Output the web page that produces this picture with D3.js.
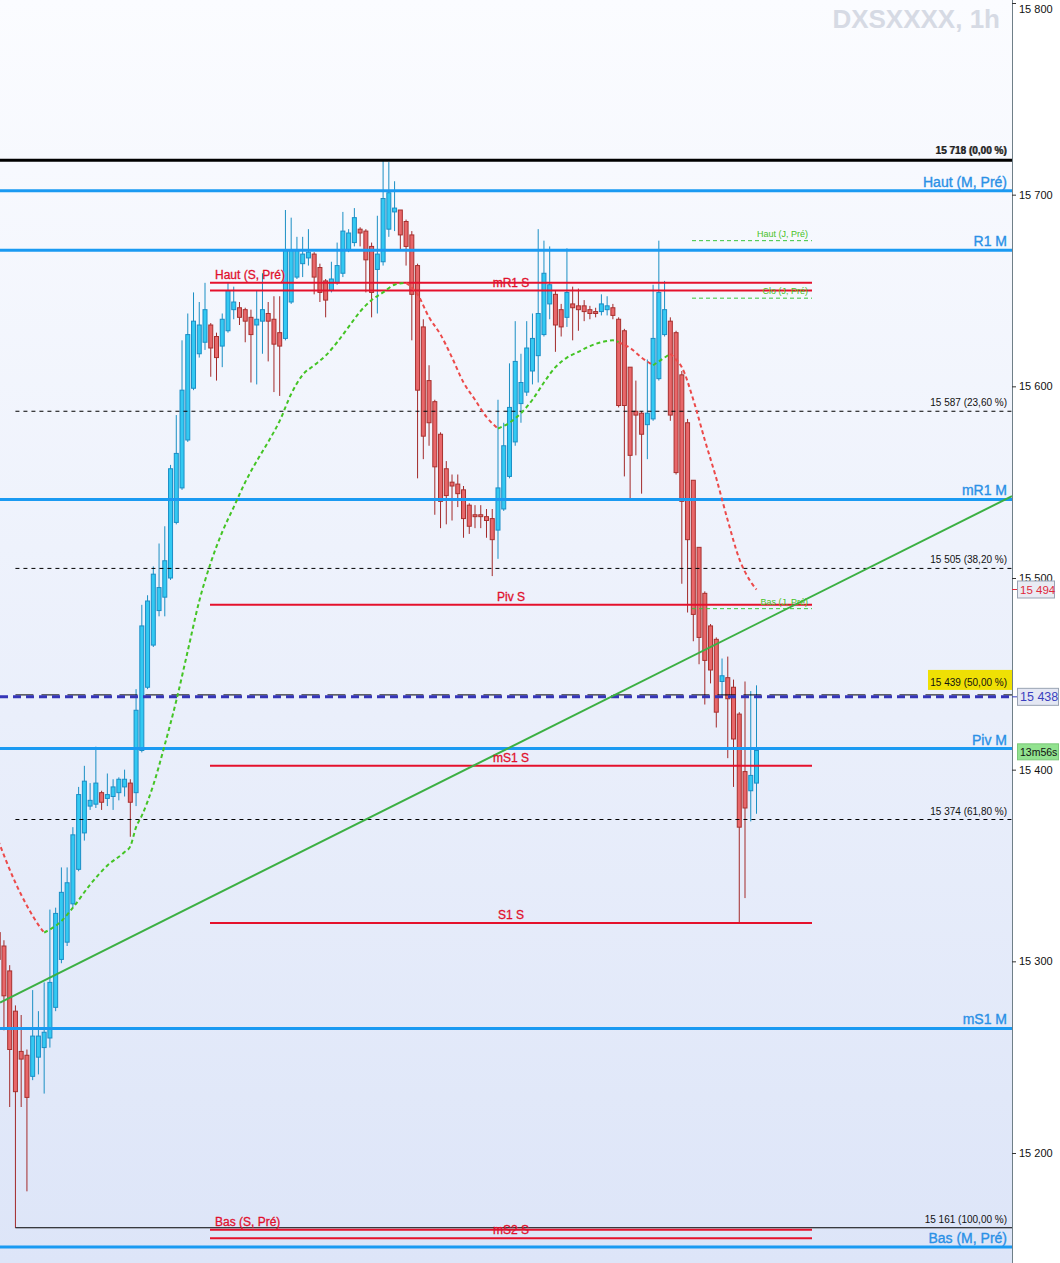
<!DOCTYPE html>
<html><head><meta charset="utf-8">
<script src="https://cdn.jsdelivr.net/npm/d3@7"></script>
<style>
body{margin:0;background:#fff}
svg{display:block}
text{font-family:"Liberation Sans",Arial,sans-serif}
</style>
</head><body>
<svg id="c" width="1060" height="1263"></svg>
<script>
// ---------- DATA ----------
const title = "DXSXXXX, 1h";
const opens  = [15315,15308,15295,15274,15253,15251,15240,15250,15255,15260,15276,15301,15310,15330,15348,15367,15381,15382,15388,15385,15386,15388,15391,15393,15388,15410,15443,15465,15483,15490,15500,15529,15547,15572,15599,15617,15623,15632,15626,15621,15629,15640,15641,15640,15636,15632,15634,15638,15635,15628,15625,15644,15657,15664,15667,15669,15662,15655,15650,15654,15659,15671,15675,15682,15681,15673,15661,15665,15682,15691,15692,15686,15679,15663,15631,15603,15592,15575,15557,15550,15549,15546,15538,15533,15533,15532,15531,15525,15536,15553,15571,15591,15597,15608,15616,15627,15643,15648,15640,15636,15643,15642,15642,15640,15639,15639,15640,15641,15635,15629,15610,15587,15586,15580,15583,15604,15627,15634,15628,15606,15581,15551,15516,15492,15475,15468,15446,15448,15443,15429,15399,15389,15393];
const highs  = [15319,15311,15298,15277,15272,15254,15285,15274,15289,15327,15328,15349,15349,15370,15391,15402,15393,15412,15389,15398,15395,15396,15400,15395,15442,15486,15491,15506,15518,15527,15559,15585,15624,15638,15649,15644,15654,15633,15628,15638,15654,15652,15644,15641,15640,15650,15659,15644,15647,15647,15692,15688,15678,15678,15682,15670,15664,15656,15665,15675,15691,15682,15693,15683,15682,15675,15689,15718,15717,15707,15692,15687,15681,15664,15635,15611,15593,15576,15561,15554,15554,15548,15539,15538,15538,15536,15536,15593,15581,15612,15634,15617,15634,15638,15682,15676,15673,15650,15643,15672,15652,15651,15645,15642,15641,15648,15647,15643,15636,15630,15610,15603,15587,15614,15653,15676,15655,15636,15629,15608,15583,15551,15516,15493,15476,15469,15458,15459,15447,15430,15446,15441,15444];
const lows   = [15266,15264,15224,15161,15224,15180,15238,15241,15231,15255,15274,15299,15308,15328,15347,15363,15379,15380,15379,15381,15379,15384,15386,15365,15381,15409,15442,15464,15480,15480,15499,15528,15546,15571,15598,15615,15619,15605,15603,15610,15628,15635,15632,15623,15602,15601,15617,15613,15597,15595,15624,15643,15656,15657,15663,15648,15644,15636,15649,15653,15657,15670,15673,15673,15649,15636,15638,15663,15678,15681,15671,15663,15624,15552,15562,15569,15533,15526,15528,15530,15537,15521,15523,15526,15526,15521,15501,15510,15535,15552,15569,15581,15595,15601,15602,15626,15635,15618,15626,15631,15624,15629,15634,15635,15636,15637,15637,15635,15589,15553,15541,15564,15544,15562,15582,15603,15626,15582,15554,15497,15482,15467,15455,15434,15445,15422,15438,15406,15391,15320,15333,15373,15377];
const closes = [15301,15282,15254,15232,15249,15229,15261,15261,15263,15289,15325,15336,15341,15366,15387,15394,15384,15393,15383,15387,15391,15395,15395,15383,15431,15475,15488,15502,15495,15509,15557,15565,15598,15627,15634,15632,15640,15620,15615,15635,15650,15644,15636,15634,15627,15635,15640,15634,15622,15621,15671,15671,15671,15669,15670,15657,15649,15645,15656,15663,15681,15680,15688,15680,15666,15649,15669,15698,15701,15693,15679,15673,15648,15598,15574,15581,15558,15540,15543,15548,15544,15531,15527,15532,15532,15530,15520,15547,15569,15589,15613,15602,15620,15625,15638,15659,15653,15632,15631,15649,15641,15640,15639,15638,15638,15643,15642,15637,15590,15590,15564,15585,15575,15586,15625,15649,15640,15585,15555,15540,15520,15481,15469,15457,15452,15430,15449,15437,15416,15370,15380,15397,15410];

// trailing stop curve (candle index, value, direction of the segment that starts there)
const trendIdx = [0,3,5,7,8,11,13,16,19,22,23,24,25,27,29,31,33,35,37,39,41,43,45,47,49,51,53,55,57,59,61,63,65,67,69,71,73,75,77,79,81,83,85,87,89,91,93,95,97,99,101,103,105,107,108,110,112,114,116,117,118,119,121,123,125,127,129,131,132];
const trendVal = [15363,15341,15329,15319,15315,15321,15328,15340,15350,15357,15360,15370,15376,15392,15413,15436,15462,15488,15508,15524,15537,15550,15561,15571,15582,15596,15606,15611,15616,15623,15631,15639,15645,15649,15653,15654,15648,15636,15627,15615,15602,15593,15584,15578,15581,15586,15593,15602,15610,15615,15618,15621,15623,15624,15623,15620,15615,15611,15615,15617,15614,15610,15593,15572,15552,15530,15510,15498,15494];
const trendDir = ["d","d","d","d","u","u","u","u","u","u","u","u","u","u","u","u","u","u","u","u","u","u","u","u","u","u","u","u","u","u","u","u","u","u","u","d","d","d","d","d","d","d","d","u","u","u","u","u","u","u","u","u","u","u","d","d","d","u","u","d","d","d","d","d","d","d","d","d","d"];

// rising trend line through two candle points
const trendLineIdx = [0,132];
const trendLineVal = [15278,15476];

// monthly pivots (blue, full width)
const monthNames = ["Haut (M, Pré)","R1 M","mR1 M","Piv M","mS1 M","Bas (M, Pré)"];
const monthVals  = [15702,15671,15541,15411,15265,15151];

// weekly pivots (red)
const weekNames = ["Haut (S, Pré)","mR1 S","Piv S","mS1 S","S1 S","Bas (S, Pré)","mS2 S"];
const weekVals  = [15654,15650,15486,15402,15320,15160,15155.5];
const weekAlign = ["left","center","center","center","center","left","center"];

// previous day levels (green, dashed)
const dayNames = ["Haut (J, Pré)","Clo (J, Pré)","Bas (J, Pré)"];
const dayVals  = [15676,15646,15484];

// Fibonacci retracement
const fibVals   = [15718,15587,15505,15439,15374,15161];
const fibLabels = ["15 718 (0,00 %)","15 587 (23,60 %)","15 505 (38,20 %)","15 439 (50,00 %)","15 374 (61,80 %)","15 161 (100,00 %)"];
const fibStartIdx = 3;

const axisTicks = [15200,15300,15400,15500,15600,15700,15800];
const lastPrice = 15438;
const stopPrice = 15494;
const timerText = "13m56s";

// ---------- DRAW ----------
const W = 1060, H = 1263, PR = 1012;
const svg = d3.select("#c");
const defs = svg.append("defs");
const grad = defs.append("linearGradient").attr("id","bg").attr("x1",0).attr("y1",0).attr("x2",0).attr("y2",1);
grad.append("stop").attr("offset","0%").attr("stop-color","#fbfcff");
grad.append("stop").attr("offset","100%").attr("stop-color","#dde5f8");
defs.append("clipPath").attr("id","clip").append("rect").attr("width",PR).attr("height",H);

svg.append("rect").attr("width",W).attr("height",H).attr("fill","#fff");
svg.append("rect").attr("width",PR).attr("height",H).attr("fill","url(#bg)");

const y = d3.scaleLinear().domain([15200,15800]).range([1153,3]);
const x = d3.scaleLinear().domain([0,132]).range([-1.8,756.5]);

const fmt = v => d3.format(",")(v).replace(/,/g," ");

// title
svg.append("text").attr("x",1000).attr("y",28).attr("text-anchor","end")
  .attr("font-size",26).attr("font-weight","bold").attr("fill","#d6dae4").text(title);

const plot = svg.append("g").attr("clip-path","url(#clip)");

// candles
const cd = opens.map((o,i)=>({i,o,h:highs[i],l:lows[i],c:closes[i],up:closes[i]>=o}));
const cg = plot.append("g");
cg.selectAll("line.w").data(cd).join("line")
  .attr("x1",d=>x(d.i)).attr("x2",d=>x(d.i))
  .attr("y1",d=>y(d.h)).attr("y2",d=>y(d.l))
  .attr("stroke",d=>d.up?"#1b8fc4":"#a32a2a").attr("stroke-width",1);
cg.selectAll("rect.b").data(cd).join("rect")
  .attr("x",d=>x(d.i)-2).attr("width",4)
  .attr("y",d=>y(Math.max(d.o,d.c)))
  .attr("height",d=>Math.max(1,Math.abs(y(d.o)-y(d.c))))
  .attr("fill",d=>d.up?"#33c9f2":"#e8676a")
  .attr("stroke",d=>d.up?"#1a8ec6":"#a8302e").attr("stroke-width",1);

// fibonacci lines
fibVals.forEach((v,k)=>{
  const ln = plot.append("line").attr("y1",y(v)).attr("y2",y(v)).attr("x2",PR);
  if(k===0){ ln.attr("x1",0).attr("stroke","#000").attr("stroke-width",3); }
  else if(k===fibVals.length-1){ ln.attr("x1",x(fibStartIdx)).attr("stroke","#000").attr("stroke-width",1); }
  else if(k===3){ ln.attr("x1",x(fibStartIdx)).attr("stroke","#000").attr("stroke-width",1).attr("stroke-dasharray","18,8"); }
  else { ln.attr("x1",x(fibStartIdx)).attr("stroke","#000").attr("stroke-width",1).attr("stroke-dasharray","4,4"); }
});

// monthly blue lines
monthVals.forEach(v=>{
  plot.append("line").attr("x1",0).attr("x2",PR).attr("y1",y(v)).attr("y2",y(v))
    .attr("stroke","#1a9af2").attr("stroke-width",3);
});

// weekly red lines
const wx1 = 210, wx2 = 812;
weekVals.forEach(v=>{
  plot.append("line").attr("x1",wx1).attr("x2",wx2).attr("y1",y(v)).attr("y2",y(v))
    .attr("stroke","#e5112c").attr("stroke-width",2);
});

// day green dashed lines
dayVals.forEach(v=>{
  plot.append("line").attr("x1",692).attr("x2",wx2).attr("y1",y(v)).attr("y2",y(v))
    .attr("stroke","#3cc43c").attr("stroke-width",1).attr("stroke-dasharray","4,3");
});

// current price dashed line
plot.append("line").attr("x1",0).attr("x2",PR).attr("y1",y(lastPrice)).attr("y2",y(lastPrice))
  .attr("stroke","#3535b8").attr("stroke-width",3).attr("stroke-dasharray","8,5");

// trend line
const slope = (trendLineVal[1]-trendLineVal[0])/(trendLineIdx[1]-trendLineIdx[0]);
const iL = x.invert(0), iR = x.invert(PR);
plot.append("line")
  .attr("x1",0).attr("y1",y(trendLineVal[0]+slope*(iL-trendLineIdx[0])))
  .attr("x2",PR).attr("y2",y(trendLineVal[0]+slope*(iR-trendLineIdx[0])))
  .attr("stroke","#3cb043").attr("stroke-width",2);

// trailing stop curve, split into coloured runs
const runs = [];
let cur = null;
for(let k=0;k<trendIdx.length-1;k++){
  const dir = trendDir[k];
  if(!cur || cur.dir!==dir){ cur = {dir, pts:[[trendIdx[k],trendVal[k]]]}; runs.push(cur); }
  cur.pts.push([trendIdx[k+1],trendVal[k+1]]);
}
const line = d3.line().x(d=>x(d[0])).y(d=>y(d[1])).curve(d3.curveMonotoneX);
runs.forEach(r=>{
  plot.append("path").attr("d",line(r.pts)).attr("fill","none")
    .attr("stroke",r.dir==="u"?"#44c425":"#ec4a4a").attr("stroke-width",2)
    .attr("stroke-dasharray","4,3");
});

// ---------- LABELS ----------
const lab = svg.append("g");
// monthly labels
monthVals.forEach((v,k)=>{
  lab.append("text").attr("x",1007).attr("y",y(v)-4).attr("text-anchor","end")
    .attr("font-size",14).attr("fill","#2a90e6").attr("stroke","#2a90e6").attr("stroke-width",0.35)
    .text(monthNames[k]);
});
// weekly labels
weekVals.forEach((v,k)=>{
  const left = weekAlign[k]==="left";
  lab.append("text").attr("x",left?215:511).attr("y",y(v)-4)
    .attr("text-anchor",left?"start":"middle")
    .attr("font-size",12).attr("fill","#e0102c").attr("stroke","#e0102c").attr("stroke-width",0.3)
    .text(weekNames[k]);
});
// day labels
dayVals.forEach((v,k)=>{
  lab.append("text").attr("x",808).attr("y",y(v)-4).attr("text-anchor","end")
    .attr("font-size",9).attr("fill","#48c21e").text(dayNames[k]);
});
// fib labels
fibVals.forEach((v,k)=>{
  if(k===3){
    lab.append("rect").attr("x",928).attr("y",y(v)-25).attr("width",84).attr("height",20).attr("fill","#efe004");
  }
  if(k===0){
    lab.append("text").attr("x",1007).attr("y",y(v)-6).attr("text-anchor","end")
      .attr("font-size",10).attr("font-weight","bold").attr("fill","#222").text(fibLabels[k]);
    lab.append("text").attr("x",1006.3).attr("y",y(v)-6.5).attr("text-anchor","end")
      .attr("font-size",10).attr("font-weight","bold").attr("fill","#222").attr("opacity",0.6).text(fibLabels[k].replace("718","719"));
  } else {
    lab.append("text").attr("x",1007).attr("y",y(v)-(k===3?9:5)).attr("text-anchor","end")
      .attr("font-size",10).attr("fill","#111").text(fibLabels[k]);
  }
});

// ---------- RIGHT AXIS ----------
const axisG = svg.append("g").attr("transform",`translate(${PR},0)`)
  .call(d3.axisRight(y).tickValues(axisTicks).tickSize(4).tickSizeOuter(0).tickFormat(fmt));
axisG.select(".domain").attr("stroke","#6f7f88").attr("d",`M0.5,0V${H}`);
axisG.selectAll(".tick line").attr("stroke","#333");
axisG.selectAll(".tick text").attr("x",7).attr("font-size",11)
  .attr("font-family","'Liberation Sans',Arial,sans-serif").attr("fill","#111")
  .attr("dy",d=>d===15800?"0.85em":"0.32em");

// badges
function badge(v, txt, fill, stroke, color, fs, w){
  const yy = y(v);
  svg.append("line").attr("x1",PR).attr("x2",PR+5).attr("y1",yy).attr("y2",yy).attr("stroke",color);
  svg.append("rect").attr("x",PR+5.5).attr("y",yy-8.5).attr("width",w).attr("height",17)
    .attr("fill",fill).attr("stroke",stroke);
  svg.append("text").attr("x",PR+8).attr("y",yy+4.5).attr("font-size",fs).attr("fill",color).text(txt);
}
badge(stopPrice, fmt(stopPrice), "#e9ebf3", "#9aa3b3", "#e02a3c", 11.5, 37);
badge(lastPrice, fmt(lastPrice), "#e4e7f3", "#9aa3b3", "#3a3fbf", 12.5, 41);
// timer
{
  const yy = y(lastPrice) + 55;
  svg.append("rect").attr("x",PR+5.5).attr("y",yy-8).attr("width",41).attr("height",16)
    .attr("fill","#92e28f").attr("stroke","#7cc87a");
  svg.append("text").attr("x",PR+8).attr("y",yy+4).attr("font-size",10.5).attr("fill","#111").text(timerText);
}
</script>
</body></html>
